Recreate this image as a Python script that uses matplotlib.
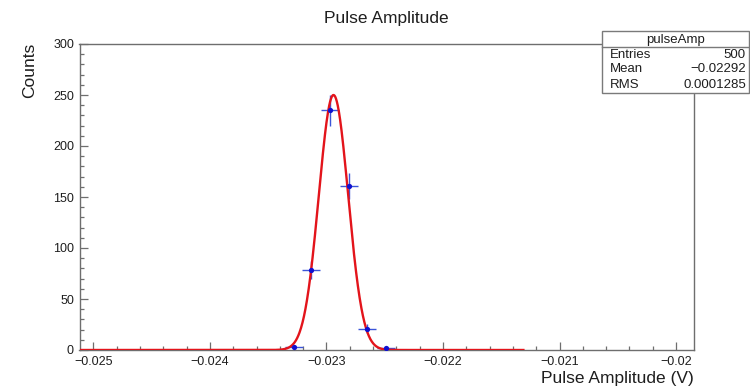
import numpy as np
import matplotlib
matplotlib.use("Agg")
import matplotlib.pyplot as plt
from matplotlib.patches import Rectangle
from matplotlib.lines import Line2D
from matplotlib.ticker import MultipleLocator, FixedLocator, FixedFormatter

# ---- data ----
bin_centers = [-0.02328, -0.02313, -0.02297, -0.02281, -0.02265, -0.02249]
counts = [3, 78, 235, 161, 21, 2]
bin_width = 0.000156

# gaussian fit parameters (as drawn)
fit_const = 250.0
fit_mean = -0.02294
fit_sigma = 0.000126
fit_range = (-0.02512, -0.02131)

xtick_values = [-0.025, -0.024, -0.023, -0.022, -0.021, -0.020]
xtick_labels = ["\u22120.025", "\u22120.024", "\u22120.023", "\u22120.022", "\u22120.021", "\u22120.02"]
ytick_values = [0, 50, 100, 150, 200, 250, 300]
ytick_labels = ["0", "50", "100", "150", "200", "250", "300"]

stats_title = "pulseAmp"
stats_names = ["Entries", "Mean", "RMS"]
stats_values = ["500", "\u22120.02292", "0.0001285"]

title = "Pulse Amplitude"
xlabel = "Pulse Amplitude (V)"
ylabel = "Counts"

# ---- figure ----
W, H = 750, 389
plt.rcParams['font.family'] = ['Liberation Sans', 'DejaVu Sans']
fig = plt.figure(figsize=(W / 100, H / 100), dpi=100)
fig.patch.set_facecolor('white')

def fx(px):
    return px / W

def fy(py):
    return 1 - py / H

ax_l, ax_r, ax_t, ax_b = 79.5, 693.5, 44, 350
ax = fig.add_axes([fx(ax_l), fy(ax_b), (ax_r - ax_l) / W, (ax_b - ax_t) / H])

frame_col = '#6e6e6e'
text_col = '#1e1e1e'
for s in ax.spines.values():
    s.set_color(frame_col)
    s.set_linewidth(1.0)

ax.set_xlim(-0.02512, -0.01985)
ax.set_ylim(0, 300)

# error bars + markers
yerr = np.sqrt(np.array(counts, dtype=float))
ax.errorbar(bin_centers, counts, xerr=bin_width / 2, yerr=yerr, fmt='none',
            ecolor='#3b55d9', elinewidth=1.0, capsize=0, zorder=2)

# gaussian fit curve
xs = np.linspace(fit_range[0], fit_range[1], 1500)
ys = fit_const * np.exp(-0.5 * ((xs - fit_mean) / fit_sigma) ** 2)
ax.plot(xs, ys, color='#e3141b', lw=1.7, zorder=3, clip_on=True)

ax.plot(bin_centers, counts, 'o', color='#1010d0', markersize=3.8, zorder=4,
        markeredgewidth=0)

# ticks
ax.xaxis.set_major_locator(FixedLocator(xtick_values))
ax.xaxis.set_major_formatter(FixedFormatter(xtick_labels))
ax.xaxis.set_minor_locator(MultipleLocator(0.0002))
ax.yaxis.set_major_locator(FixedLocator(ytick_values))
ax.yaxis.set_major_formatter(FixedFormatter(ytick_labels))
ax.yaxis.set_minor_locator(MultipleLocator(10))
ax.tick_params(which='both', direction='in', top=False, right=False,
               colors=frame_col, labelcolor=text_col, labelsize=9)
ax.tick_params(which='major', length=6, width=0.9)
ax.tick_params(which='minor', length=3, width=0.9)
ax.tick_params(axis='x', pad=4)
ax.tick_params(axis='y', pad=4)

# titles and labels
fig.text(fx(386), fy(19), title, ha='center', va='center', fontsize=12.5, color=text_col)
fig.text(fx(694), fy(378), xlabel, ha='right', va='center', fontsize=12.5, color=text_col)
fig.text(fx(30), fy(43), ylabel, ha='center', va='top', rotation=90, fontsize=12.5, color=text_col)

# stats box
bx0, bx1, by0, by1 = 602, 749, 31, 93
fig.patches.append(Rectangle((fx(bx0), fy(by1)), (bx1 - bx0) / W, (by1 - by0) / H,
                             transform=fig.transFigure, facecolor='white',
                             edgecolor='#7a7a7a', lw=1.0, zorder=5))
fig.lines.append(Line2D([fx(bx0), fx(bx1)], [fy(47), fy(47)], transform=fig.transFigure,
                        color='#7a7a7a', lw=1.0, zorder=6))
fig.text(fx((bx0 + bx1) / 2), fy(39.5), stats_title, ha='center', va='center',
         fontsize=9.5, color=text_col, zorder=7)
row_y = [54.5, 69.5, 84.5]
for name, val, yy in zip(stats_names, stats_values, row_y):
    fig.text(fx(610), fy(yy), name, ha='left', va='center', fontsize=9.5, color=text_col, zorder=7)
    fig.text(fx(746), fy(yy), val, ha='right', va='center', fontsize=9.5, color=text_col, zorder=7)

fig.savefig('out.png', dpi=100, facecolor='white')
